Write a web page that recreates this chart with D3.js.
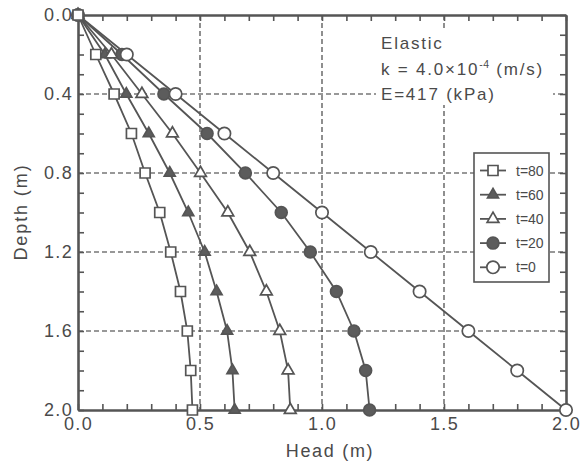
<!DOCTYPE html>
<html>
<head>
<meta charset="utf-8">
<script src="https://cdn.jsdelivr.net/npm/d3@7"></script>
<style>
  html, body { margin: 0; padding: 0; background: #fff; }
  svg { display: block; font-family: "Liberation Sans", Arial, sans-serif; }
</style>
</head>
<body>
<svg id="chart" width="586" height="461"></svg>
<script>
// Depth of each measuring point (m)
const depths = [0.0, 0.2, 0.4, 0.6, 0.8, 1.0, 1.2, 1.4, 1.6, 1.8, 2.0];

// Head profiles (m) at each elapsed time
const headT80 = [0.0, 0.073, 0.148, 0.219, 0.275, 0.335, 0.380, 0.420, 0.448, 0.462, 0.469];
const headT60 = [0.0, 0.110, 0.198, 0.290, 0.376, 0.452, 0.519, 0.568, 0.611, 0.633, 0.642];
const headT40 = [0.0, 0.137, 0.262, 0.387, 0.502, 0.614, 0.704, 0.772, 0.827, 0.861, 0.870];
const headT20 = [0.0, 0.180, 0.352, 0.529, 0.686, 0.833, 0.952, 1.059, 1.131, 1.179, 1.195];
const headT0  = [0.0, 0.2, 0.4, 0.6, 0.8, 1.0, 1.2, 1.4, 1.6, 1.8, 2.0];

const seriesLabels = ["t=80", "t=60", "t=40", "t=20", "t=0"];

// Axis ticks
const xLabelTicks = [0.0, 0.5, 1.0, 1.5, 2.0];
const yLabelTicks = [0.0, 0.4, 0.8, 1.2, 1.6, 2.0];
const xGrid = [0.5, 1.0, 1.5];
const yGrid = [0.4, 0.8, 1.2, 1.6];
const minorTicks = d3.range(0, 21).map(i => i / 10);

const noteLines = ["Elastic", "k = 4.0×10", "E=417 (kPa)"];

const ink = "#555";
const textInk = "#4a4a4a";
const darkFill = "#5c5c5c";

const svg = d3.select("#chart");
const x = d3.scaleLinear().domain([0, 2]).range([78, 566]);
const y = d3.scaleLinear().domain([0, 2]).range([15, 410]);

// Dashed grid
const grid = svg.append("g").attr("stroke", "#333").attr("stroke-width", 1.1)
  .attr("stroke-dasharray", "5,3");
grid.selectAll("line.v").data(xGrid).join("line").attr("class", "v")
  .attr("x1", d => x(d)).attr("x2", d => x(d)).attr("y1", y(0)).attr("y2", y(2));
grid.selectAll("line.h").data(yGrid).join("line").attr("class", "h")
  .attr("x1", x(0)).attr("x2", x(2)).attr("y1", d => y(d)).attr("y2", d => y(d));

// Annotation block (white backing over the grid)
svg.append("rect").attr("x", 376).attr("y", 29).attr("width", 177).attr("height", 76)
  .attr("fill", "#fff");
const note = svg.append("g").attr("fill", textInk).attr("font-size", 17)
  .attr("letter-spacing", "1.8px");
note.append("text").attr("x", 381).attr("y", 49).text(noteLines[0]);
const kLine = note.append("text").attr("x", 381).attr("y", 75);
kLine.append("tspan").text(noteLines[1]);
kLine.append("tspan").attr("dy", -7).attr("font-size", 10.5).attr("letter-spacing", "0.5px").text("-4");
kLine.append("tspan").attr("dy", 7).text(" (m/s)");
note.append("text").attr("x", 381).attr("y", 100).text(noteLines[2]);

// Axes: inward minor ticks on all four sides
function styleAxis(g) {
  g.select(".domain").attr("stroke", ink).attr("stroke-width", 2.6);
  g.selectAll(".tick line").attr("stroke", ink).attr("stroke-width", 1.6);
  g.selectAll(".tick text").attr("fill", textInk).attr("font-size", 18)
    .attr("letter-spacing", "1.3px").attr("font-family", "Liberation Sans, Arial, sans-serif");
}
const fmt = d3.format(".1f");
const isX = v => xLabelTicks.some(t => Math.abs(t - v) < 1e-9);
const isY = v => yLabelTicks.some(t => Math.abs(t - v) < 1e-9);

svg.append("g").attr("transform", `translate(0,${y(2)})`)
  .call(d3.axisBottom(x).tickValues(minorTicks).tickSizeInner(-6).tickSizeOuter(0)
    .tickPadding(7).tickFormat(d => isX(d) ? fmt(d) : ""))
  .call(styleAxis);
svg.append("g").attr("transform", `translate(0,${y(0)})`)
  .call(d3.axisTop(x).tickValues(minorTicks).tickSizeInner(-6).tickSizeOuter(0).tickFormat(""))
  .call(styleAxis);
svg.append("g").attr("transform", `translate(${x(0)},0)`)
  .call(d3.axisLeft(y).tickValues(minorTicks).tickSizeInner(-6).tickSizeOuter(0)
    .tickPadding(5).tickFormat(d => isY(d) ? fmt(d) : ""))
  .call(styleAxis);
svg.append("g").attr("transform", `translate(${x(2)},0)`)
  .call(d3.axisRight(y).tickValues(minorTicks).tickSizeInner(-6).tickSizeOuter(0).tickFormat(""))
  .call(styleAxis);

// Axis titles
svg.append("text").attr("x", 330).attr("y", 457).attr("text-anchor", "middle")
  .attr("fill", textInk).attr("font-size", 18).attr("letter-spacing", "1.7px").text("Head (m)");
svg.append("text").attr("transform", "translate(27,212) rotate(-90)").attr("text-anchor", "middle")
  .attr("fill", textInk).attr("font-size", 18).attr("letter-spacing", "1.9px").text("Depth (m)");

// Series and marker styles
const series = [
  { label: seriesLabels[0], head: headT80, symbol: d3.symbolSquare, size: 100, fill: "#fff" },
  { label: seriesLabels[1], head: headT60, symbol: d3.symbolTriangle, size: 52, fill: darkFill },
  { label: seriesLabels[2], head: headT40, symbol: d3.symbolTriangle, size: 60, fill: "#fff" },
  { label: seriesLabels[3], head: headT20, symbol: d3.symbolCircle, size: 110, fill: darkFill },
  { label: seriesLabels[4], head: headT0, symbol: d3.symbolCircle, size: 120, fill: "#fff" }
];

const line = d3.line().x(d => x(d[0])).y(d => y(d[1]));
const plot = svg.append("g");
plot.selectAll("path.curve").data(series).join("path").attr("class", "curve")
  .attr("d", s => line(s.head.map((h, i) => [h, depths[i]])))
  .attr("fill", "none").attr("stroke", ink).attr("stroke-width", 1.8);

// Marker stacking: filled circles, open circles, filled triangles, open triangles, squares
const markerOrder = [3, 4, 1, 2, 0];
markerOrder.forEach(k => {
  const s = series[k];
  const sym = d3.symbol().type(s.symbol).size(s.size);
  plot.append("g").selectAll("path").data(s.head.map((h, i) => [h, depths[i]])).join("path")
    .attr("transform", d => `translate(${x(d[0])},${y(d[1])})`)
    .attr("d", sym).attr("fill", s.fill).attr("stroke", ink).attr("stroke-width", 1.7);
});

// Legend
const legend = svg.append("g");
legend.append("rect").attr("x", 474).attr("y", 153).attr("width", 75).attr("height", 129)
  .attr("fill", "#fff").attr("stroke", ink).attr("stroke-width", 1.6);
const rows = legend.selectAll("g.row").data(series).join("g").attr("class", "row")
  .attr("transform", (s, i) => `translate(0,${170.5 + i * 24.2})`);
rows.append("line").attr("x1", 480).attr("x2", 506).attr("stroke", ink).attr("stroke-width", 1.8);
rows.append("path").attr("transform", "translate(493,0)")
  .attr("d", s => d3.symbol().type(s.symbol).size(s.size)())
  .attr("fill", s => s.fill).attr("stroke", ink).attr("stroke-width", 1.7);
rows.append("text").attr("x", 516).attr("dy", "0.36em").attr("font-size", 14)
  .attr("fill", textInk).text(s => s.label);
</script>
</body>
</html>
